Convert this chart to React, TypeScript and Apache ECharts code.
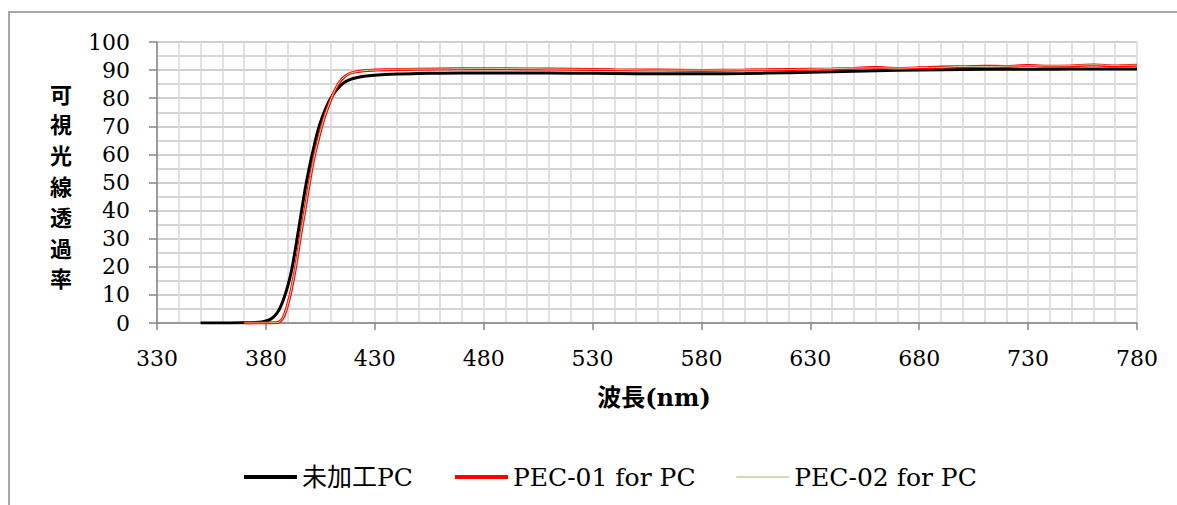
import React, { useEffect, useRef } from "react";
import * as echarts from "echarts";

// ---- Data ----
const seriesNames = ["未加工PC", "PEC-01 for PC", "PEC-02 for PC"];

const untreatedWavelengths = [
  350, 360, 370, 375, 378, 380, 382, 384, 386, 388, 390, 392, 394, 396, 398, 400,
  402, 404, 406, 408, 410, 412, 414, 416, 418, 420, 425, 430, 440, 450, 460, 480,
  500, 520, 540, 560, 580, 600, 620, 640, 660, 680, 700, 720, 740, 760, 780,
];
const untreatedValues = [
  0, 0, 0.1, 0.2, 0.4, 0.7, 1.3, 2.5, 4.6, 8.2, 13, 19.5, 28.5, 38, 47.5, 55.5,
  62.5, 68.8, 73.5, 77.3, 80.2, 82.5, 84.3, 85.6, 86.4, 87, 87.8, 88.2, 88.6, 88.8, 88.9, 89.0,
  89.0, 88.9, 88.8, 88.7, 88.7, 88.8, 89.1, 89.4, 89.8, 90.0, 90.2, 90.3, 90.3, 90.4, 90.4,
];

const pecWavelengths = [
  370, 380, 384, 386, 388, 390, 392, 394, 396, 398, 400, 402, 404, 406, 408, 410,
  412, 414, 416, 418, 420, 425, 430, 440, 460, 480, 500, 520, 540, 560, 580, 600,
  620, 640, 650, 660, 670, 680, 690, 700, 710, 720, 730, 740, 750, 760, 770, 780,
];
const pec01Values = [
  0, 0, 0.1, 0.3, 2, 6.5, 13, 21.5, 31.5, 40.5, 50, 58.5, 65, 71, 75.7, 79.8,
  83.3, 85.9, 87.6, 88.6, 89.2, 89.8, 90.0, 90.2, 90.4, 90.5, 90.4, 90.3, 90.1, 90.0, 89.9, 90.0,
  90.2, 90.4, 90.6, 90.9, 90.6, 90.8, 91.1, 91.2, 91.4, 91.3, 91.6, 91.4, 91.5, 91.8, 91.5, 91.7,
];
const pec02Values = [
  0, 0, 0.1, 0.3, 2.1, 6.6, 13.2, 21.7, 31.6, 40.6, 50.1, 58.6, 65.1, 71.1, 75.8, 79.9,
  83.4, 86.0, 87.6, 88.6, 89.2, 89.8, 90.0, 90.3, 90.4, 90.6, 90.5, 90.3, 90.2, 90.0, 90.0, 90.1,
  90.2, 90.5, 90.7, 90.8, 90.7, 90.9, 91.0, 91.3, 91.3, 91.4, 91.5, 91.5, 91.6, 91.9, 91.6, 91.8,
];

const xMin = 330;
const xMax = 780;
const xInterval = 50;
const yMin = 0;
const yMax = 100;
const yInterval = 10;

const xAxisTitle = "波長(nm)";
const yAxisTitle = "可視光線透過率";

const serif = "'DejaVu Serif', 'Noto Sans CJK JP', serif";

function pairs(xs: number[], ys: number[]) {
  return xs.map((x, i) => [x, ys[i]]);
}

export default function App() {
  const ref = useRef<HTMLDivElement>(null);

  useEffect(() => {
    if (!ref.current) return;
    const chart = echarts.init(ref.current, undefined, { renderer: "svg" });

    const option: any = {
      animation: false,
      backgroundColor: "#ffffff",
      grid: { left: 157, top: 42, right: 40, bottom: 182, containLabel: false },
      xAxis: {
        type: "value",
        min: xMin,
        max: xMax,
        interval: xInterval,
        axisLine: { show: true, onZero: false, lineStyle: { color: "#868686", width: 1.5 } },
        axisTick: { show: true, inside: false, length: 7, lineStyle: { color: "#868686", width: 1.5 } },
        minorTick: { show: false, splitNumber: 5 },
        axisLabel: { color: "#000", fontSize: 22, fontFamily: serif, margin: 24 },
        splitLine: { show: true, lineStyle: { color: "#d9d9d9", width: 1.5 } },
        minorSplitLine: { show: true, lineStyle: { color: "#d9d9d9", width: 1.5 } },
      },
      yAxis: {
        type: "value",
        min: yMin,
        max: yMax,
        interval: yInterval,
        axisLine: { show: true, lineStyle: { color: "#868686", width: 1.5 } },
        axisTick: { show: true, inside: false, length: 8, lineStyle: { color: "#868686", width: 1.5 } },
        minorTick: { show: false, splitNumber: 2 },
        axisLabel: { color: "#000", fontSize: 22, fontFamily: serif, margin: 27 },
        splitLine: { show: true, lineStyle: { color: "#c0c0c0", width: 1.5 } },
        minorSplitLine: { show: true, lineStyle: { color: "#c8c8c8", width: 1.5 } },
      },
      legend: {
        show: true,
        left: 237,
        top: 459,
        itemWidth: 53,
        itemHeight: 14,
        itemGap: 40,
        itemStyle: { opacity: 0 },
        textStyle: { color: "#000", fontSize: 25, fontFamily: serif, lineHeight: 26 },
        data: [
          { name: seriesNames[0], lineStyle: { width: 4, color: "#000000" } },
          { name: seriesNames[1], lineStyle: { width: 4, color: "#ff0000" } },
          { name: seriesNames[2], lineStyle: { width: 1.5, color: "#bfd495" } },
        ],
      },
      series: [
        {
          name: seriesNames[0],
          type: "line",
          symbol: "none",
          showSymbol: false,
          smooth: 0.3,
          data: pairs(untreatedWavelengths, untreatedValues),
          lineStyle: { color: "#000000", width: 3 },
          itemStyle: { color: "#000000" },
        },
        {
          name: seriesNames[1],
          type: "line",
          symbol: "none",
          showSymbol: false,
          smooth: 0.3,
          data: pairs(pecWavelengths, pec01Values),
          lineStyle: { color: "#ff0000", width: 3 },
          itemStyle: { color: "#ff0000" },
        },
        {
          name: seriesNames[2],
          type: "line",
          symbol: "none",
          showSymbol: false,
          smooth: 0.3,
          data: pairs(pecWavelengths, pec02Values),
          lineStyle: { color: "#c3d69b", width: 1 },
          itemStyle: { color: "#c3d69b" },
        },
      ],
      graphic: [
        {
          type: "rect",
          silent: true,
          shape: { x: 9, y: 12, width: 1300, height: 700 },
          style: { fill: "none", stroke: "#a6a6a6", lineWidth: 2 },
        },
        {
          type: "text",
          silent: true,
          x: 61,
          y: 185,
          style: {
            text: yAxisTitle.split("").join("\n"),
            fontSize: 22,
            fontWeight: "bold",
            lineHeight: 30.8,
            fontFamily: "'Noto Sans CJK JP', sans-serif",
            fill: "#000",
            align: "center",
            verticalAlign: "middle",
          },
        },
        {
          type: "text",
          silent: true,
          x: 654,
          y: 397,
          style: {
            text: xAxisTitle,
            fontSize: 24,
            fontWeight: "bold",
            fontFamily: serif,
            fill: "#000",
            align: "center",
            verticalAlign: "middle",
          },
        },
      ],
    };

    chart.setOption(option);
    return () => {
      chart.dispose();
    };
  }, []);

  return (
    <div
      ref={ref}
      style={{ position: "fixed", left: 0, top: 0, width: 1177, height: 505, background: "#fff" }}
    />
  );
}
